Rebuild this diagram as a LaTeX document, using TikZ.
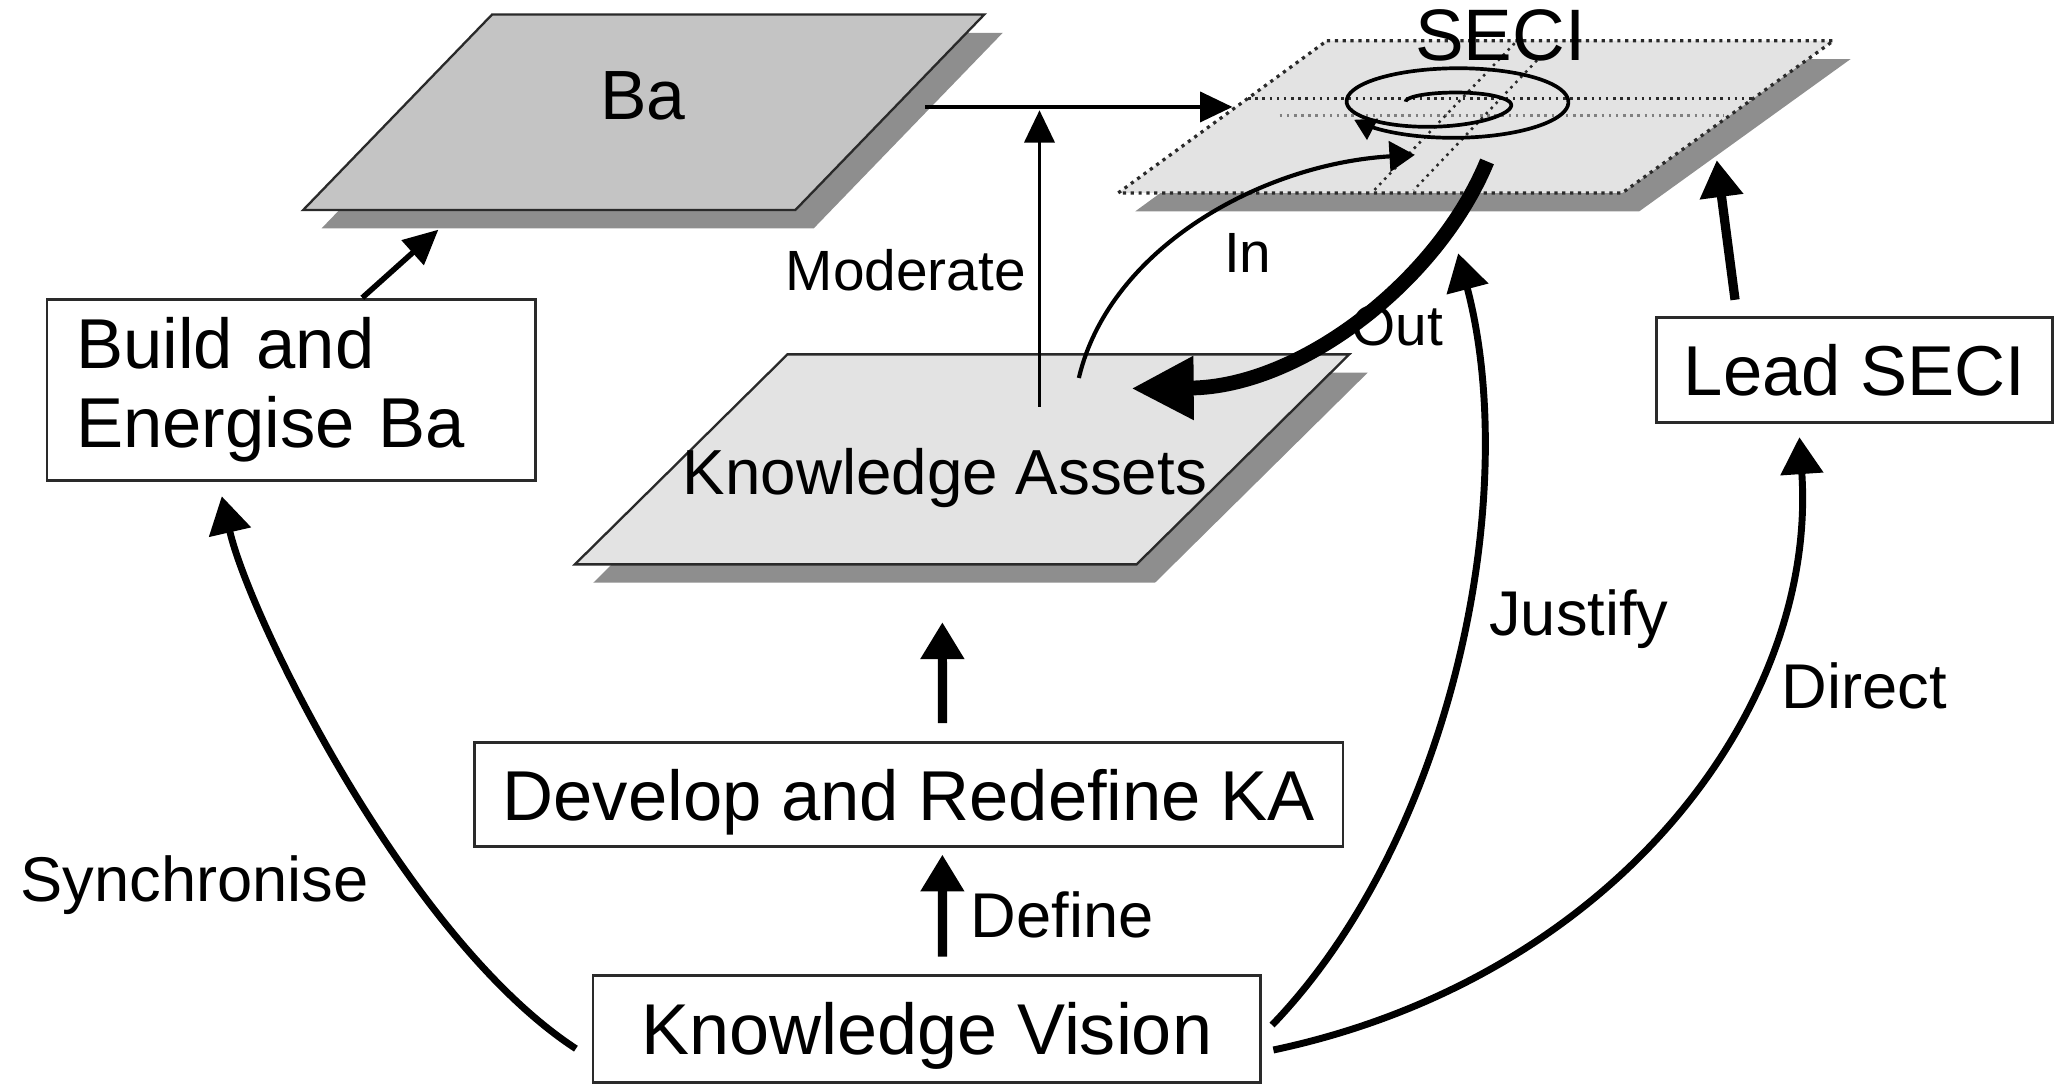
\documentclass[tikz,border=0pt]{standalone}
\usepackage{fontspec}
\setmainfont{Liberation Sans}
\usetikzlibrary{arrows.meta,calc}
\definecolor{bafill}{HTML}{C4C4C4}
\definecolor{lightfill}{HTML}{E3E3E3}
\definecolor{shadowc}{HTML}{8E8E8E}
\definecolor{edgec}{HTML}{2A2A2A}
\begin{document}
\begin{tikzpicture}[x=0.01cm,y=-0.01cm,
  declare function={spgrow(\u)=(1-cos(180*min(1,max(0,(\u-0.4)/0.6))))/2; sptail(\u)=max(0,\u-1);},
  box/.style={draw=edgec, line width=0.6pt, inner sep=0pt,
    font=\fontsize{15.3pt}{17.07pt}\selectfont},
  onelinebox/.style={box, text height=11pt, text depth=0pt},
  lab/.style={inner sep=0pt, anchor=base west, font=\fontsize{13.7pt}{16pt}\selectfont},
  smalllab/.style={inner sep=0pt, anchor=base west, font=\fontsize{12.3pt}{15pt}\selectfont},
  planetext/.style={inner sep=0pt, anchor=base},
  thinarrow/.style={line width=0.8pt, -{Triangle[length=7pt,width=6.5pt]}},
  medarrow/.style={line width=1.2pt, -{Triangle[length=7.5pt,width=7pt]}},
  curvearrow/.style={line width=1.5pt, -{Triangle[length=8pt,width=9pt]}},
  vertarrow/.style={line width=2pt, -{Triangle[length=8pt,width=9pt]}},
  planeedge/.style={draw=edgec, line width=0.5pt},
  seciline/.style={draw=edgec, densely dotted, line width=0.55pt}
]
\useasboundingbox (0,0) rectangle (1568,828);

% ---- shadows of the planes
\fill[shadowc] (389,25) -- (764,25) -- (620,174) -- (245,174) -- cycle;
\fill[shadowc] (1024,45) -- (1410,45) -- (1249,161) -- (865,161) -- cycle;
\fill[shadowc] (614,284) -- (1042,284) -- (880,444) -- (452,444) -- cycle;

% ---- planes
\filldraw[fill=bafill, planeedge] (375,11) -- (750,11) -- (606,160) -- (231,160) -- cycle;
\filldraw[fill=lightfill, seciline, line width=0.7pt] (1011,31) -- (1397,31) -- (1236,147) -- (852,147) -- cycle;
\filldraw[fill=lightfill, planeedge] (600,270) -- (1028,270) -- (866,430) -- (438,430) -- cycle;

% ---- SECI grid lines
\draw[seciline] (951,75) -- (1336,75);
\draw[gray, densely dotted, line width=0.55pt] (975,88) -- (1313,88);
\draw[seciline] (1154,33) -- (1045,147);
\draw[seciline] (1171,46) -- (1077,145);

% ---- SECI spiral
\draw[line width=0.8pt, -{Triangle[length=4.5pt,width=5pt]}]
  plot[smooth, variable=\u, domain=0:1.92, samples=150]
  ({1109+(38+45*spgrow(\u)+6*sptail(\u))*cos(180-360*\u)},
   {77.5-(7+17.5*spgrow(\u)+4*sptail(\u))*sin(180-360*\u)});

% ---- plane texts
\node[planetext, font=\fontsize{15.1pt}{18pt}\selectfont] (ba) at (490,91) {Ba};
\node[planetext, font=\fontsize{15.8pt}{18pt}\selectfont] (seci) at (1143,46) {SECI};
\node[planetext, font=\fontsize{13.8pt}{16pt}\selectfont] (ka) at (720,377) {Knowledge Assets};

% ---- boxes
\node[box, text width=3.28cm, inner xsep=0.22cm, align=left, minimum height=1.38cm] (build) at (222,297) {Build and\\Energise Ba};
\node[onelinebox, minimum width=3.02cm, minimum height=0.80cm] (lead) at (1413,282) {Lead SECI};
\node[onelinebox, minimum width=6.61cm, minimum height=0.79cm] (develop) at (692.5,605.5) {Develop and Redefine KA};
\node[onelinebox, text height=11.2pt, minimum width=5.08cm, minimum height=0.82cm, font=\fontsize{15.6pt}{18pt}\selectfont] (vision) at (706,784) {Knowledge Vision};

% ---- connector end points on the planes
\coordinate (baOut) at (705,81.5);
\coordinate (seciIn) at (939,81.5);
\coordinate (kaMod) at (792,310);
\coordinate (modTip) at (792,84);
\coordinate (baIn) at (334,175);
\coordinate (kaInStart) at (822,288);
\coordinate (seciInTip) at (1078,118);
\coordinate (seciOut) at (1133,123);
\coordinate (kaOutTip) at (862,296);
\coordinate (seciJust) at (1111,193);
\coordinate (seciLead) at (1308,122);
\coordinate (kaDev) at (718,474);

% ---- connectors
\draw[thinarrow] (baOut) -- (seciIn);
\draw[thinarrow] (kaMod) -- (modTip);
\draw[medarrow] ([xshift=0.54cm]build.north) -- (baIn);
\draw[line width=0.9pt, -{Triangle[length=5.5pt,width=6.5pt]}]
  (kaInStart) .. controls (845,190) and (960,125) .. (seciInTip);
\draw[line width=3.2pt, -{Triangle[length=13.5pt,width=13pt]}]
  (seciOut) .. controls (1095,215) and (990,295) .. (kaOutTip);
\draw[vertarrow] ([xshift=-0.91cm,yshift=0.125cm]lead.north) -- (seciLead);
\draw[vertarrow] ([xshift=0.255cm,yshift=0.14cm]develop.north) -- (kaDev);
\draw[vertarrow] ([xshift=0.12cm,yshift=0.13cm]vision.north) -- ([xshift=0.255cm,yshift=-0.05cm]develop.south);
\draw[curvearrow] ([xshift=-0.12cm,yshift=-0.15cm]vision.west)
  .. controls (310,715) and (190,470) .. ([xshift=-0.53cm,yshift=-0.11cm]build.south);
\draw[curvearrow] ([xshift=0.08cm,yshift=0.03cm]vision.east)
  .. controls (1105,640) and (1160,380) .. (seciJust);
\draw[curvearrow] ([xshift=0.09cm,yshift=-0.16cm]vision.east)
  .. controls (1230,745) and (1385,540) .. ([xshift=-0.42cm,yshift=-0.10cm]lead.south);

% ---- labels
\node[smalllab] (lModerate) at (598,221) {Moderate};
\node[smalllab] (lIn) at (932,208) {In};
\node[smalllab] (lOut) at (1029,263) {Out};
\node[lab] (lJustify) at (1134,484) {Justify};
\node[lab] (lDirect) at (1357,540) {Direct};
\node[lab] (lSync) at (15,687) {Synchronise};
\node[lab] (lDefine) at (739,714) {Define};
\end{tikzpicture}
\end{document}
